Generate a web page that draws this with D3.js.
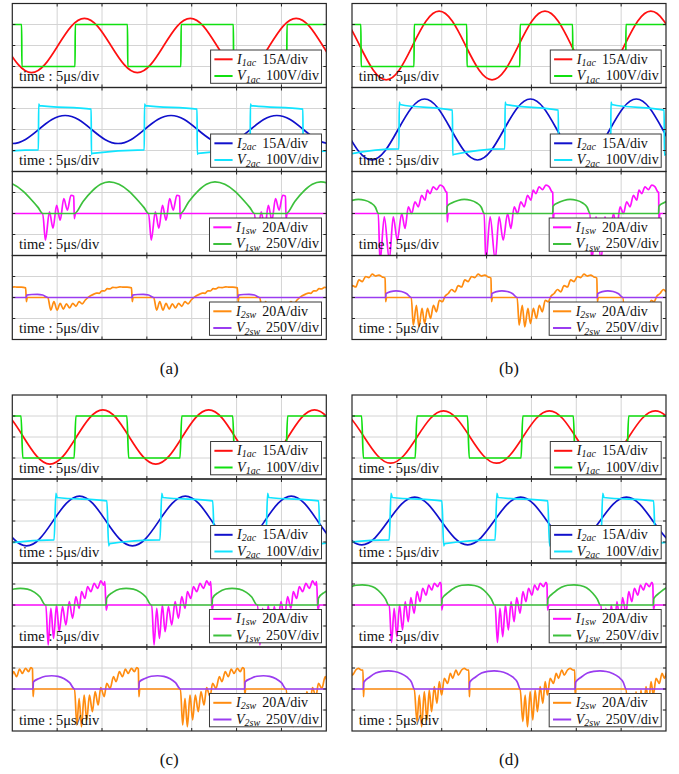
<!DOCTYPE html>
<html>
<head>
<meta charset="utf-8">
<script src="https://cdn.jsdelivr.net/npm/d3@7"></script>
<style>
  html, body { margin: 0; padding: 0; background: #fff; }
  svg { display: block; }
  svg text { font-family: 'Liberation Serif', 'Times New Roman', Times, serif; }
</style>
</head>
<body>
<svg id="fig" width="679" height="774"></svg>
<script>
// ---------------- data ----------------
const subfigureLabels = ["(a)", "(b)", "(c)", "(d)"];
const timeLabel = "time : 5\u03bcs/div";
const timePerDiv = 5;          // μs per horizontal division
const divisionsX = 7;
const divisionsY = 4;
const period = 11.8;           // switching period, μs
// window time (μs) of the first V1ac rising edge in each subfigure
const edgeTime = [6.99, 6.91, 6.99, 7.14];

// channel order: I1ac, V1ac, I2ac, V2ac, I1sw, V1sw, I2sw, V2sw
const channelSymbol = ["I", "V", "I", "V", "I", "V", "I", "V"];
const channelSubscript = ["1ac", "1ac", "2ac", "2ac", "1sw", "1sw", "2sw", "2sw"];
const channelPerDiv = [15, 100, 15, 100, 20, 250, 20, 250];
const channelUnit = ["A", "V", "A", "V", "A", "V", "A", "V"];

// One switching period of every trace: [time after the V1ac rising edge (μs), value (A or V)]
// (a)
const aI1ac = [[1.05,19.4],[2.53,13.7],[4.0,0],[5.48,-13.7],[6.95,-19.4],[8.43,-13.7],[9.9,0],[11.38,13.7]];
const aV1ac = [[0,-100],[0.03,100],[5.85,100],[5.88,-100]];
const aI2ac = [[0.38,7.1],[1.85,0],[3.33,-7.1],[4.8,-10],[6.28,-7.1],[7.75,0],[9.23,7.1],[10.7,10]];
const aV2ac = [[7.72,-97],[7.75,121],[7.85,114],[13.6,97],[13.63,-118],[13.72,-114],[19.48,-97]];
const aI1sw = [[8.2,0],[8.5,-25.4],[8.95,1.6],[9.35,-14],[9.75,7.8],[10.15,-6.4],[10.55,14.2],[10.95,3.2],[11.35,17.4],[11.66,16.5],[11.72,-4.8],[11.85,0]];
const aV1sw = [[-0.05,0],[0.9,144],[1.9,266],[2.85,347],[3.8,376],[4.9,347],[6.0,266],[7.1,144],[7.7,70],[8.2,0]];
const aI2sw = [[6.5,0],[8.77,0],[9.1,-12],[9.45,-4],[9.8,-12],[10.15,-5.6],[10.5,-11],[10.85,-6],[11.2,-10],[11.55,-5.6],[11.9,-8.4],[12.25,-4],[12.6,-6],[12.95,-2.4],[13.3,0.4],[13.9,3.2],[14.2,4.2],[14.5,4],[14.8,6.4],[15.1,6.2],[15.4,8.4],[15.7,8.2],[16.0,9.6],[16.4,9.4],[16.8,10.2],[17.2,9.8],[17.6,9.8],[18.1,9.2],[18.18,-4],[18.28,0]];
const aV2sw = [[6.38,0],[6.42,28],[7.0,36],[7.6,38],[8.2,30],[8.77,0]];
// (b)
const bI1ac = [[2.8,24.5],[4.28,17.3],[5.75,0],[7.23,-17.3],[8.7,-24.5],[10.18,-17.3],[11.65,0],[13.13,17.3]];
const bV1ac = [[0,-100],[0.03,100],[5.88,100],[5.91,-100]];
const bI2ac = [[1.18,21.8],[2.66,15.4],[4.13,0],[5.61,-15.4],[7.08,-21.8],[8.56,-15.4],[10.03,0],[11.51,15.4]];
const bV2ac = [[10.12,-92],[10.16,131],[10.25,119],[16.08,92],[16.12,-122],[16.2,-119],[21.9,-92]];
const bI1sw = [[3.8,0],[7.82,0],[8.01,-46],[8.49,-3.2],[9.05,-44],[9.49,-3.2],[9.94,-25.4],[10.43,0],[10.8,-14.2],[11.17,6.4],[11.54,0],[11.91,11.2],[12.28,6.4],[12.66,17.4],[13.03,12.6],[13.28,22.2],[13.58,19],[13.95,25.4],[14.33,22.8],[14.7,27],[15.07,25.4],[15.37,20.6],[15.47,20],[15.5,-8],[15.58,-2]];
const bV1sw = [[3.66,0],[3.7,85],[4.2,125],[4.9,155],[5.6,167],[6.3,158],[7.0,125],[7.5,75],[7.82,0]];
const bI2sw = [[3.45,1],[3.82,3.8],[4.19,7.6],[4.56,5.4],[4.93,11.4],[5.3,10],[5.67,16.8],[6.04,15.2],[6.41,20],[6.78,19],[7.15,22.2],[7.52,20.4],[7.89,21.4],[8.26,19.6],[8.58,18.5],[8.64,-4],[8.75,0],[11.5,0],[11.72,-26.4],[12.07,-7.4],[12.35,-28],[12.7,-10.4],[12.98,-24.8],[13.31,-10.4],[13.64,-20],[13.97,-7.4],[14.3,-13.6],[14.63,-2.6],[14.96,-4]];
const bV2sw = [[8.64,0],[8.68,45],[9.2,70],[9.8,80],[10.4,72],[11.0,45],[11.5,0]];
// (c)
const cI1ac = [[3.1,19.4],[4.58,13.7],[6.05,0],[7.53,-13.7],[9.0,-19.4],[10.48,-13.7],[11.95,0],[13.43,13.7]];
const cV1ac = [[-0.1,-100],[0.1,100],[5.78,100],[5.98,-100]];
const cI2ac = [[0.5,17.8],[1.98,12.6],[3.45,0],[4.93,-12.6],[6.4,-17.8],[7.88,-12.6],[9.35,0],[10.83,12.6]];
const cV2ac = [[9.47,-90],[9.67,132],[9.8,112],[15.35,96],[15.55,-118],[15.65,-108],[21.25,-90]];
const cI1sw = [[3.6,0],[8.55,0],[8.81,-38],[9.11,-3.2],[9.41,-31.8],[9.74,0],[10.04,-25.4],[10.41,-1.6],[10.78,-19],[11.16,3.2],[11.53,-12.7],[11.9,7.9],[12.27,-3.2],[12.53,12.7],[12.9,6.3],[13.2,17.5],[13.57,12.7],[13.94,20.6],[14.31,15.9],[14.69,22.9],[14.98,19],[15.13,22.2],[15.27,-4.8],[15.38,-1]];
const cV1sw = [[3.48,0],[3.52,80],[4.2,150],[5.0,190],[5.7,198],[6.5,190],[7.3,150],[7.9,95],[8.5,0]];
const cI2sw = [[7.32,0],[11.75,0],[12.0,-34.3],[12.26,-8.9],[12.52,-35.9],[12.82,-5.7],[13.11,-29.5],[13.41,-5.7],[13.74,-21.6],[14.04,-2.5],[14.38,-15.2],[14.67,1.3],[15.05,-7.3],[15.34,5.4],[15.71,0.6],[16.09,11.7],[16.38,7],[16.75,16.5],[17.09,11.7],[17.42,19],[17.72,14.9],[18.09,19.7],[18.42,16.5],[18.68,20.3],[18.86,19],[18.92,-7.3],[19.02,0]];
const cV2sw = [[7.12,0],[7.16,85],[7.8,125],[8.5,152],[9.2,158],[9.9,150],[10.6,122],[11.2,75],[11.75,0]];
// (d)
const dI1ac = [[3.06,18.7],[4.54,13.2],[6.01,0],[7.49,-13.2],[8.96,-18.7],[10.44,-13.2],[11.91,0],[13.39,13.2]];
const dV1ac = [[-0.1,-100],[0.1,100],[5.73,100],[5.93,-100]];
const dI2ac = [[11.65,17],[13.13,12],[14.6,0],[16.08,-12],[17.55,-17],[19.03,-12],[20.5,0],[21.98,12]];
const dV2ac = [[8.81,-90],[9.01,132],[9.15,112],[14.68,96],[14.88,-118],[15.0,-108],[20.6,-90]];
const dI1sw = [[3.0,0],[8.81,0],[9.07,-35.6],[9.36,-3.2],[9.66,-30.2],[9.96,0],[10.29,-23.8],[10.59,3.2],[10.93,-15.9],[11.22,7],[11.59,-7.9],[11.91,12.7],[12.25,3.2],[12.54,15.9],[12.92,9.5],[13.21,19],[13.54,14.3],[13.84,20.6],[14.21,17.5],[14.48,21.6],[14.59,19.6],[14.66,-4.8],[14.76,-1]];
const dV1sw = [[2.86,0],[2.9,75],[3.6,150],[4.4,210],[5.1,235],[5.8,240],[6.5,232],[7.2,205],[7.9,140],[8.4,70],[8.75,0]];
const dI2sw = [[6.0,0],[11.6,0],[11.9,-31],[12.16,-5.7],[12.42,-35.9],[12.72,-2.5],[13.01,-29.5],[13.27,-1],[13.53,-21.6],[13.83,2.2],[14.13,-13.6],[14.39,7],[14.65,-5.7],[14.95,10.2],[15.32,5.4],[15.62,14.9],[15.88,10.2],[16.25,18.1],[16.51,13.3],[16.88,18.1],[17.18,19.7],[17.48,18.1],[17.68,18],[17.74,-7.3],[17.78,-2]];
const dV2sw = [[5.94,0],[5.98,80],[6.6,140],[7.3,190],[8.0,210],[8.7,215],[9.4,208],[10.1,185],[10.8,140],[11.3,80],[11.6,0]];

const tracesBySubfigure = [
  [aI1ac, aV1ac, aI2ac, aV2ac, aI1sw, aV1sw, aI2sw, aV2sw],
  [bI1ac, bV1ac, bI2ac, bV2ac, bI1sw, bV1sw, bI2sw, bV2sw],
  [cI1ac, cV1ac, cI2ac, cV2ac, cI1sw, cV1sw, cI2sw, cV2sw],
  [dI1ac, dV1ac, dI2ac, dV2ac, dI1sw, dV1sw, dI2sw, dV2sw]
];

// ---------------- layout & style ----------------
const SERIF = "'Liberation Serif', 'Times New Roman', Times, serif";
const colLeft = [12.3, 352];
const rowTop = [3.5, 395];
const panelW = 314, panelH = 84;
const traceColor = ["#ff1010", "#10e010", "#1010cc", "#10e4ff", "#ff10ff", "#3cc03c", "#ff8c10", "#9a3cf0"];
const traceWidth = 1.7;
const gridColor = "#d4d4d4";
const frameColor = "#262626";

const svg = d3.select("#fig");
const windowEnd = divisionsX * timePerDiv;

// lay one measured period end to end across the 35 μs window
function repeatPeriod(pattern, t0) {
  const pts = [];
  for (let k = -3; k <= 4; k++) {
    pattern.forEach(([t, v]) => pts.push([t0 + t + k * period, v]));
  }
  return pts.filter(p => p[0] >= -period && p[0] <= windowEnd + period);
}

tracesBySubfigure.forEach((traces, s) => {
  const left = colLeft[s % 2];
  const top0 = rowTop[Math.floor(s / 2)];
  const x = d3.scaleLinear().domain([0, windowEnd]).range([left, left + panelW]);

  for (let p = 0; p < 4; p++) {
    const top = top0 + p * panelH;
    const y = d3.scaleLinear().domain([-divisionsY / 2, divisionsY / 2]).range([top + panelH, top]);
    const g = svg.append("g");

    // grid
    const xGrid = d3.range(1, divisionsX).map(i => i * timePerDiv);
    const yGrid = d3.range(1, divisionsY).map(j => j - divisionsY / 2);
    g.selectAll(".gx").data(xGrid).enter().append("line")
      .attr("x1", d => x(d)).attr("x2", d => x(d))
      .attr("y1", top).attr("y2", top + panelH)
      .attr("stroke", gridColor).attr("stroke-width", 1);
    g.selectAll(".gy").data(yGrid).enter().append("line")
      .attr("x1", left).attr("x2", left + panelW)
      .attr("y1", d => y(d)).attr("y2", d => y(d))
      .attr("stroke", gridColor).attr("stroke-width", 1);

    // traces
    const clipId = `clip-${s}-${p}`;
    svg.append("clipPath").attr("id", clipId).append("rect")
      .attr("x", left).attr("y", top).attr("width", panelW).attr("height", panelH);
    const tg = g.append("g").attr("clip-path", `url(#${clipId})`);
    [2 * p, 2 * p + 1].forEach(ch => {
      const perDiv = channelPerDiv[ch];
      const smooth = (ch === 0 || ch === 2) ? d3.curveNatural : d3.curveMonotoneX;
      const line = d3.line()
        .x(d => x(d[0]))
        .y(d => y(d[1] / perDiv))
        .curve(smooth);
      tg.append("path")
        .datum(repeatPeriod(traces[ch], edgeTime[s]))
        .attr("d", line)
        .attr("fill", "none")
        .attr("stroke", traceColor[ch])
        .attr("stroke-width", traceWidth)
        .attr("stroke-linejoin", "round");
    });

    // tick marks on all four edges
    const tk = 3;
    xGrid.forEach(d => {
      g.append("line").attr("x1", x(d)).attr("x2", x(d)).attr("y1", top).attr("y2", top + tk)
        .attr("stroke", frameColor).attr("stroke-width", 1);
      g.append("line").attr("x1", x(d)).attr("x2", x(d)).attr("y1", top + panelH).attr("y2", top + panelH - tk)
        .attr("stroke", frameColor).attr("stroke-width", 1);
    });
    yGrid.forEach(d => {
      g.append("line").attr("x1", left).attr("x2", left + tk).attr("y1", y(d)).attr("y2", y(d))
        .attr("stroke", frameColor).attr("stroke-width", 1);
      g.append("line").attr("x1", left + panelW).attr("x2", left + panelW - tk).attr("y1", y(d)).attr("y2", y(d))
        .attr("stroke", frameColor).attr("stroke-width", 1);
    });

    // frame
    g.append("rect").attr("x", left).attr("y", top).attr("width", panelW).attr("height", panelH)
      .attr("fill", "none").attr("stroke", frameColor).attr("stroke-width", 1.2);

    // legend
    const lg = g.append("g");
    const box = lg.append("rect").attr("fill", "#fff").attr("stroke", "#3a3a3a").attr("stroke-width", 1);
    const rowsY = [9.3, 26];
    let maxW = 0;
    const texts = [];
    [2 * p, 2 * p + 1].forEach((ch, r) => {
      const t = lg.append("text")
        .attr("y", rowsY[r] + 4.4)
        .style("font-family", SERIF).attr("font-size", 14).attr("fill", "#111");
      t.append("tspan").attr("font-style", "italic").text(channelSymbol[ch]);
      t.append("tspan").attr("font-style", "italic").attr("font-size", 10).attr("dy", 2.2).text(channelSubscript[ch]);
      t.append("tspan").attr("dy", -2.2).attr("dx", 6).text(`${channelPerDiv[ch]}${channelUnit[ch]}/div`);
      maxW = Math.max(maxW, t.node().getBBox().width);
      texts.push(t);
    });
    const boxW = 26.5 + maxW + 2.5, boxH = 33.3;
    const bx = left + panelW - 4.8 - boxW, by = top + panelH - 4.2 - boxH;
    box.attr("x", bx).attr("y", by).attr("width", boxW).attr("height", boxH);
    [2 * p, 2 * p + 1].forEach((ch, r) => {
      lg.append("line").attr("x1", bx + 3.8).attr("x2", bx + 22)
        .attr("y1", by + rowsY[r]).attr("y2", by + rowsY[r])
        .attr("stroke", traceColor[ch]).attr("stroke-width", 2);
      texts[r].attr("x", bx + 26.5).attr("y", by + rowsY[r] + 4.4);
    });

    // time base
    g.append("text").attr("x", left + 6.7).attr("y", top + panelH - 6.3)
      .style("font-family", SERIF).attr("font-size", 14.5).attr("fill", "#111")
      .text(timeLabel);
  }

  // subfigure caption
  svg.append("text")
    .attr("x", left + panelW / 2).attr("y", top0 + 4 * panelH + 34)
    .attr("text-anchor", "middle")
    .style("font-family", SERIF).attr("font-size", 17).attr("fill", "#111")
    .text(subfigureLabels[s]);
});
</script>
</body>
</html>
